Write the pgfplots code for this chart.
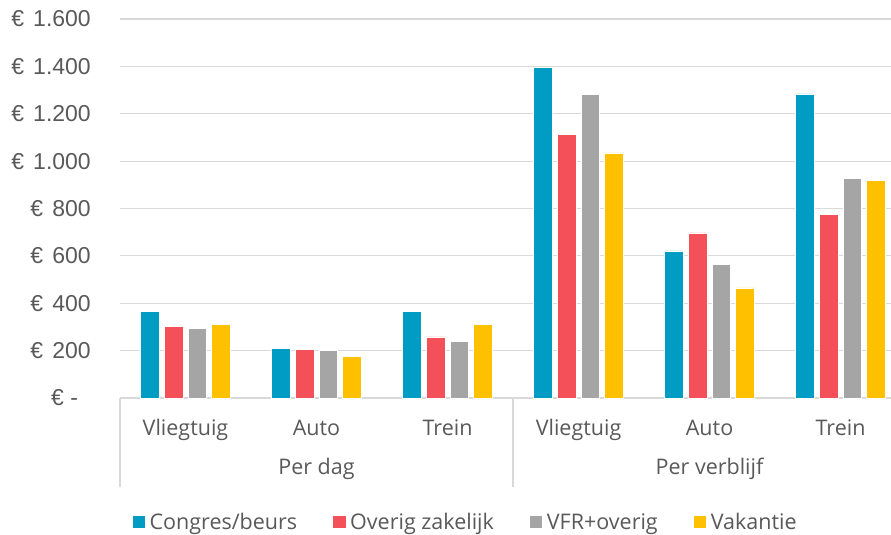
\documentclass[border=0pt]{standalone}
\usepackage{fontspec}
\setmainfont{Open Sans}
\newfontfamily\numfont{Liberation Sans}
\usepackage{pgfplots}
\pgfplotsset{compat=1.18}
\definecolor{cblue}{HTML}{009CC4}
\definecolor{cred}{HTML}{F4505A}
\definecolor{cgray}{HTML}{A5A5A5}
\definecolor{cyellow}{HTML}{FFC000}
\definecolor{gridgray}{HTML}{D9D9D9}
\definecolor{txt}{HTML}{595959}
\newcommand{\lblfont}{\fontsize{21.5bp}{26bp}\selectfont}
\newcommand{\eu}{€\hspace{0.4em}}

\begin{document}
\begin{tikzpicture}
\begin{axis}[
    scale only axis,
    width=771bp, height=379bp,
    xmin=-0.5, xmax=5.385,
    ymin=0, ymax=1600,
    ybar=5bp, bar width=18.7bp,
    axis line style={draw=none},
    major tick length=0pt,
    ymajorgrids,
    grid style={draw=gridgray, line width=1.2bp},
    ytick={0,200,...,1600},
    yticklabels={€ -\hphantom{0},\eu 200,\eu 400,\eu 600,\eu 800,\eu 1.000,\eu 1.200,\eu 1.400,\eu 1.600},
    yticklabel style={font=\numfont\fontsize{23bp}{27bp}\selectfont, text=txt, anchor=east, inner sep=0pt, xshift=-29bp},
    xtick={0,...,5},
    xticklabels={Vliegtuig,Auto,Trein,Vliegtuig,Auto,Trein},
    xticklabel style={font=\lblfont, text=txt, anchor=base, inner sep=0pt, yshift=-37bp},
    clip=false,
    legend columns=4,
    legend style={at={(axis description cs:0.447,-0.327)}, anchor=center, draw=none,
        font=\lblfont, text=txt, inner sep=0pt, nodes={inner sep=0pt},
        /tikz/every odd column/.append style={column sep=4.5bp},
        /tikz/every even column/.append style={column sep=36bp}},
    legend image code/.code={\path[#1, draw=none] (0bp,-6.25bp) rectangle (12.5bp,6.25bp);},
    every axis plot/.append style={draw=white, line width=0.6bp},
]
\addplot[fill=cblue] coordinates {(0,366) (1,209) (2,367) (3,1395) (4,621) (5,1284)};
\addplot[fill=cred] coordinates {(0,301) (1,206) (2,258) (3,1112) (4,697) (5,776)};
\addplot[fill=cgray] coordinates {(0,295) (1,200) (2,239) (3,1281) (4,565) (5,928)};
\addplot[fill=cyellow] coordinates {(0,311) (1,175) (2,311) (3,1035) (4,465) (5,917)};
\legend{Congres/beurs,Overig zakelijk,VFR+overig,Vakantie}
\coordinate (bl) at (rel axis cs:0,0);
\draw[gridgray, line width=1.2bp] (axis cs:-0.5,0) -- ([yshift=-89bp]axis cs:-0.5,0);
\draw[gridgray, line width=1.2bp] (axis cs:2.5,0) -- ([yshift=-89bp]axis cs:2.5,0);
\node[font=\lblfont, text=txt, anchor=base] at ([yshift=-76bp]axis cs:1,0) {Per dag};
\node[font=\lblfont, text=txt, anchor=base] at ([yshift=-76bp]axis cs:4,0) {Per verblijf};
\end{axis}
\pgfresetboundingbox
\useasboundingbox ([xshift=-120bp,yshift=-137bp]bl) rectangle ([xshift=771bp,yshift=398bp]bl);
\end{tikzpicture}
\end{document}
